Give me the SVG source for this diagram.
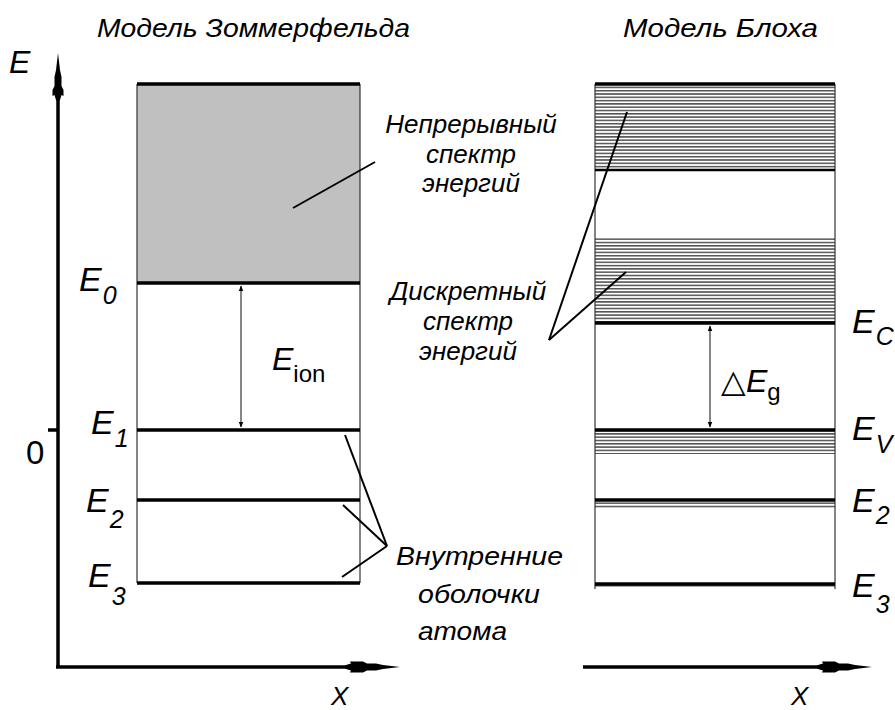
<svg xmlns="http://www.w3.org/2000/svg" width="895" height="710" viewBox="0 0 895 710">
<style>
text{font-family:"Liberation Sans",Arial,sans-serif;font-style:italic;fill:#000}
.lbl{font-size:26px}
.big{font-size:34px}
.sub{font-size:25px}
.thick{stroke:#000;stroke-width:3.5}
.thin{stroke:#333;stroke-width:1.2}
.lead{stroke:#000;stroke-width:2;fill:none}
.axis{stroke:#000;stroke-width:3.5;fill:none}
</style>
<defs>
<marker id="ah" viewBox="0 0 10 10" refX="9" refY="5" markerWidth="6" markerHeight="9" orient="auto-start-reverse" markerUnits="userSpaceOnUse">
<path d="M0,1 L10,5 L0,9 Z" fill="#000"/>
</marker>
<pattern id="hp" x="0" y="0" width="10" height="3.3" patternUnits="userSpaceOnUse">
<rect width="10" height="3.3" fill="#fff"/>
<line x1="0" y1="1.6" x2="10" y2="1.6" stroke="#333" stroke-width="1.3"/>
</pattern>
</defs>
<rect width="895" height="710" fill="#fff"/>

<g id="titles">
<text class="lbl" x="97" y="37" textLength="313" lengthAdjust="spacingAndGlyphs">Модель Зоммерфельда</text>
<text class="lbl" x="623" y="37" textLength="195" lengthAdjust="spacingAndGlyphs">Модель Блоха</text>
</g>

<g id="axes">
<line class="axis" x1="58" y1="85" x2="58" y2="667"/>
<line class="axis" x1="56" y1="667" x2="360" y2="667"/>
<line class="axis" x1="583" y1="667" x2="835" y2="667"/>
<line class="axis" x1="48" y1="430" x2="58" y2="430"/>
<path d="M58,53 L60,70 L61.5,77 L61.5,86 L63.5,90 L63.5,96 L61.5,95 L60,100 L58,102 L56,100 L54.5,95 L52.5,96 L52.5,90 L54.5,86 L54.5,77 L56,70 Z" fill="#000"/>
<path d="M400,667 L383,665 L376,663.5 L367,663.5 L363,661.5 L350,661.5 L351,663.5 L346,665 L344,667 L346,669 L351,670.5 L350,672.5 L363,672.5 L367,670.5 L376,670.5 L383,669 Z" fill="#000"/>
<path d="M872,667 L855,665 L848,663.5 L839,663.5 L835,661.5 L822,661.5 L823,663.5 L818,665 L816,667 L818,669 L823,670.5 L822,672.5 L835,672.5 L839,670.5 L848,670.5 L855,669 Z" fill="#000"/>
<text x="9" y="73" style="font-size:32px">E</text>
<text x="26" y="464" style="font-size:33px;font-style:normal">0</text>
<text x="331" y="705" style="font-size:26px">X</text>
<text x="791" y="705" style="font-size:26px">X</text>
</g>

<g id="sommerfeld">
<rect x="137" y="84" width="223" height="199" fill="#c0c0c0"/>
<line class="thin" x1="137" y1="84" x2="137" y2="583"/>
<line class="thin" x1="360" y1="84" x2="360" y2="583"/>
<line class="thick" x1="137" y1="84" x2="360" y2="84"/>
<line class="thick" x1="137" y1="283" x2="360" y2="283"/>
<line class="thick" x1="137" y1="430" x2="360" y2="430"/>
<line class="thick" x1="137" y1="500" x2="360" y2="500"/>
<line class="thick" x1="137" y1="583" x2="360" y2="583"/>
<text class="big" x="79" y="291">E<tspan class="sub" dx="1" dy="13">0</tspan></text>
<text class="big" x="91" y="434">E<tspan class="sub" dx="1" dy="13">1</tspan></text>
<text class="big" x="86" y="512">E<tspan class="sub" dx="1" dy="16">2</tspan></text>
<text class="big" x="88" y="587">E<tspan class="sub" dx="1" dy="18">3</tspan></text>
</g>

<g id="eion">
<line x1="241" y1="286" x2="241" y2="427" stroke="#444" stroke-width="1.3" marker-start="url(#ah)" marker-end="url(#ah)"/>
<text x="272" y="370" style="font-size:32px">E<tspan style="font-size:24px;font-style:normal" dy="12">ion</tspan></text>
</g>

<g id="bloch">
<rect x="595" y="84" width="240" height="86" fill="url(#hp)"/>
<rect x="595" y="237" width="240" height="86" fill="url(#hp)"/>
<rect x="595" y="430" width="240" height="24" fill="url(#hp)"/>
<rect x="595" y="500" width="240" height="9" fill="url(#hp)"/>
<rect x="595" y="584" width="240" height="4" fill="url(#hp)"/>
<line class="thin" x1="595" y1="84" x2="595" y2="589"/>
<line class="thin" x1="835" y1="84" x2="835" y2="589"/>
<line class="thick" x1="595" y1="84" x2="835" y2="84"/>
<line x1="595" y1="170" x2="835" y2="170" stroke="#000" stroke-width="2.5"/>
<line class="thick" x1="595" y1="323" x2="835" y2="323"/>
<line class="thick" x1="595" y1="430" x2="835" y2="430"/>
<line class="thick" x1="595" y1="500" x2="835" y2="500"/>
<line class="thick" x1="595" y1="584" x2="835" y2="584"/>
<text class="big" x="852" y="333">E<tspan class="sub" dx="1" dy="12">C</tspan></text>
<text class="big" x="852" y="440">E<tspan class="sub" dx="1" dy="13">V</tspan></text>
<text class="big" x="852" y="512">E<tspan class="sub" dx="1" dy="12">2</tspan></text>
<text class="big" x="852" y="597">E<tspan class="sub" dx="1" dy="16">3</tspan></text>
</g>

<g id="egap">
<line x1="710" y1="326" x2="710" y2="427" stroke="#444" stroke-width="1.3" marker-start="url(#ah)" marker-end="url(#ah)"/>
<text x="721" y="392" style="font-size:32px;font-style:normal">△<tspan style="font-style:italic">E</tspan><tspan style="font-size:24px;font-style:normal" dy="8">g</tspan></text>
</g>

<g id="continuous">
<text class="lbl" text-anchor="middle" x="471" y="133">Непрерывный</text>
<text class="lbl" text-anchor="middle" x="471" y="163">спектр</text>
<text class="lbl" text-anchor="middle" x="471" y="192">энергий</text>
</g>
<g id="discrete">
<text class="lbl" text-anchor="middle" x="468" y="300">Дискретный</text>
<text class="lbl" text-anchor="middle" x="468" y="330">спектр</text>
<text class="lbl" text-anchor="middle" x="468" y="360">энергий</text>
</g>
<g id="shells">
<text class="lbl" x="396" y="565" textLength="167" lengthAdjust="spacingAndGlyphs">Внутренние</text>
<text class="lbl" x="418" y="603" textLength="122" lengthAdjust="spacingAndGlyphs">оболочки</text>
<text class="lbl" x="418" y="640" textLength="89" lengthAdjust="spacingAndGlyphs">атома</text>
</g>

<g id="connectors">
<line class="lead" x1="293" y1="208" x2="375" y2="162"/>
<line class="lead" x1="627" y1="112" x2="549" y2="340"/>
<line class="lead" x1="626" y1="272" x2="549" y2="340"/>
<line class="lead" x1="387" y1="546" x2="345" y2="435"/>
<line class="lead" x1="387" y1="546" x2="343" y2="505"/>
<line class="lead" x1="387" y1="546" x2="342" y2="577"/>
</g>
</svg>
